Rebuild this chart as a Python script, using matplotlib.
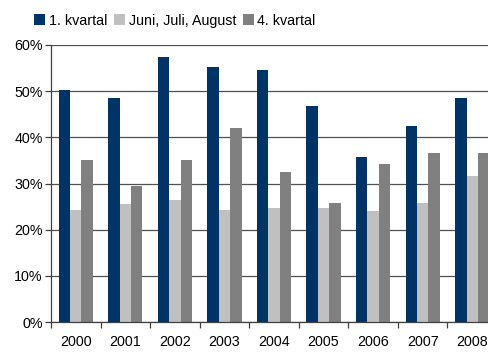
import numpy as np
import matplotlib
matplotlib.use("Agg")
import matplotlib.pyplot as plt
from matplotlib.patches import Patch
from matplotlib.ticker import FuncFormatter

plt.rcParams['font.family'] = ['Liberation Sans', 'DejaVu Sans']

# data (percent)
years = ['2000', '2001', '2002', '2003', '2004', '2005', '2006', '2007', '2008']
q1 = [50.3, 48.6, 57.4, 55.3, 54.6, 46.8, 35.8, 42.5, 48.6]
summer = [24.2, 25.5, 26.5, 24.2, 24.6, 24.8, 24.0, 25.7, 31.7]
q4 = [35.0, 29.4, 35.0, 42.0, 32.4, 25.7, 34.3, 36.5, 36.5]
series_names = ['1. kvartal', 'Juni, Juli, August', '4. kvartal']
colors = ['#003366', '#c0c0c0', '#808080']

fig = plt.figure(figsize=(4.88, 3.52), dpi=100)
# axes run past the right edge like in the cropped reference
ax = fig.add_axes([51 / 488, 30 / 352, 446 / 488, 277 / 352])

x = np.arange(len(years))
w = 0.23
for k, vals in enumerate([q1, summer, q4]):
    ax.bar(x + (k - 1) * w, vals, width=w, color=colors[k], zorder=3)

ax.set_xlim(-0.5, len(years) - 0.5)
ax.set_ylim(0, 60)
ax.set_yticks(np.arange(0, 61, 10))
ax.yaxis.set_major_formatter(FuncFormatter(lambda v, p: f'{int(v)}%'))
ax.yaxis.grid(True, color='#505050', linewidth=0.9, zorder=0)

ax.set_xticks(x)
ax.set_xticklabels(years)
ax.set_xticks(np.arange(-0.5, len(years)), minor=True)
ax.tick_params(axis='x', which='major', length=0, labelsize=10.3, pad=9, colors='black')
ax.tick_params(axis='x', which='minor', length=4, width=0.9, color='#404040', direction='out')
ax.tick_params(axis='y', length=4, width=0.9, color='#404040', labelsize=10.3, pad=2)

for side in ['top', 'right']:
    ax.spines[side].set_visible(False)
for side in ['left', 'bottom']:
    ax.spines[side].set_color('#404040')
    ax.spines[side].set_linewidth(0.9)
    ax.spines[side].set_zorder(4)

handles = [Patch(facecolor=c, edgecolor='none') for c in colors]
fig.legend(handles, series_names, loc='upper left', bbox_to_anchor=(0.05, 0.99),
           ncol=3, frameon=False, fontsize=10.3, handlelength=0.75, handleheight=0.75,
           handletextpad=0.25, columnspacing=0.5, borderaxespad=0.3)

fig.savefig('out.png', dpi=100)
